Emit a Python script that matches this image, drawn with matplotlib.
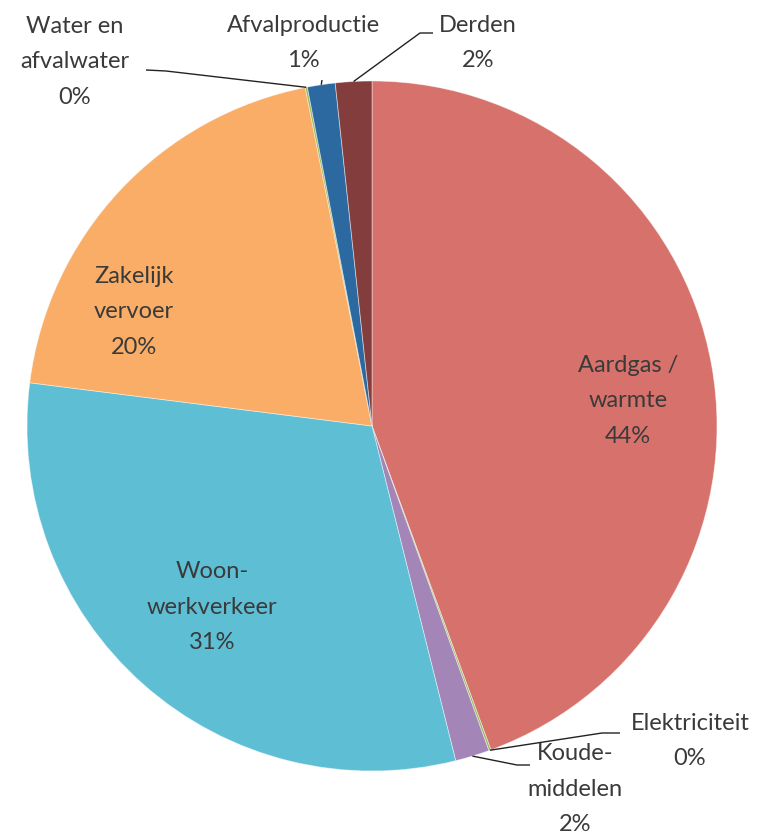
import numpy as np
import matplotlib
matplotlib.use("Agg")
import matplotlib.pyplot as plt

# ---- data ----
categories = ["Aardgas /\nwarmte", "Elektriciteit", "Koude-\nmiddelen", "Woon-\nwerkverkeer",
              "Zakelijk\nvervoer", "Water en\nafvalwater", "Afvalproductie", "Derden"]
values = [44.4, 0.1, 1.6, 30.9, 19.9, 0.1, 1.3, 1.7]
colors = ["#D6726B", "#9BBB59", "#A385B8", "#5EBED4", "#F9AD67", "#9BBB59", "#2C69A0", "#833D3C"]

# ---- layout ----
W, H = 761, 839
CX, CY, R = 372, 426, 345

def px2d(px, py):
    return ((px - CX) / R, (CY - py) / R)

fig = plt.figure(figsize=(W / 100, H / 100), dpi=100)
ax = fig.add_axes([(CX - R) / W, (H - CY - R) / H, 2 * R / W, 2 * R / H])
ax.set_xlim(-1, 1)
ax.set_ylim(-1, 1)
ax.set_aspect("equal")
ax.axis("off")

wedges, _ = ax.pie(values, colors=colors, startangle=90, counterclock=False, radius=1,
                   wedgeprops=dict(linewidth=0.6, edgecolor="#ffffff80"))
ax.set_xlim(-1, 1)
ax.set_ylim(-1, 1)

font = ["Lato", "DejaVu Sans"]
tc = "#3a3a3a"
fs = 17
total = sum(values)
pcts = [f"{round(v / total * 100):.0f}%" for v in values]

# label placement (pixel centres) and leader-line elbows
label_pos = {
    0: (628, 401),
    1: (690, 741),
    2: (575, 789),
    3: (212, 607),
    4: (134, 312),
    5: (75, 62),
    6: (303, 43),
    7: (478, 43),
}
leaders = {
    1: [(620, 733), (602, 733)],
    2: [(530, 765), (517, 765)],
    5: [(146, 70), (166, 71)],
    6: [(322, 80)],
    7: [(433, 33), (420, 33)],
}

for i, w in enumerate(wedges):
    x, y = px2d(*label_pos[i])
    ax.text(x, y, f"{categories[i]}\n{pcts[i]}", ha="center", va="center",
            fontsize=fs, color=tc, family=font, linespacing=1.85)
    if i in leaders:
        th = np.deg2rad((w.theta1 + w.theta2) / 2)
        ex, ey = np.cos(th) * 1.0, np.sin(th) * 1.0
        pts = [px2d(*p) for p in leaders[i]] + [(ex, ey)]
        xs, ys = zip(*pts)
        ax.plot(xs, ys, color="#222222", lw=1.0, solid_capstyle="butt", clip_on=False)

fig.savefig("out.png", dpi=100, facecolor="white")
